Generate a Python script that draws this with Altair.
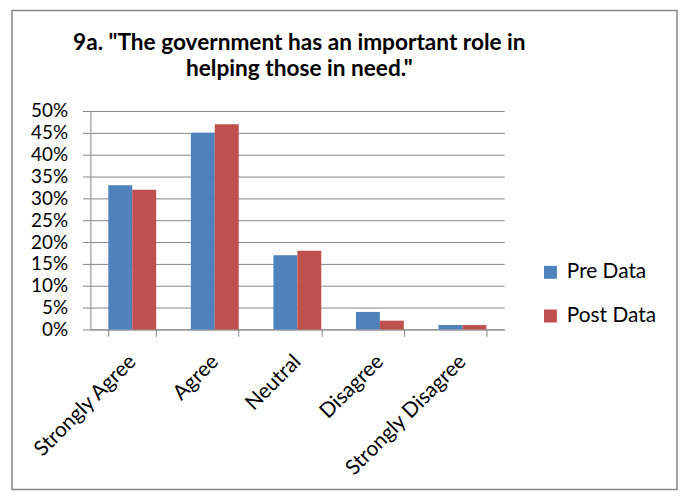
import altair as alt
import pandas as pd

categories = ["Strongly Agree", "Agree", "Neutral", "Disagree", "Strongly Disagree"]
series = ["Pre Data", "Post Data"]
pre_values = [33, 45, 17, 4, 1]
post_values = [32, 47, 18, 2, 1]
y_ticks = [0, 5, 10, 15, 20, 25, 30, 35, 40, 45, 50]
colors = ["#4F81BD", "#C0504D"]
title_lines = ['9a. "The government has an important role in', 'helping those in need."']

rows = []
for c, a, b in zip(categories, pre_values, post_values):
    rows.append({"category": c, "series": series[0], "value": a})
    rows.append({"category": c, "series": series[1], "value": b})
df = pd.DataFrame(rows)

W, H = 417, 220
PL, PT = 83, 102
CW, CH = 675, 484
PR = CW - PL - W
PB = CH - PT - H

FONT = "Lato"
GRAY = "#868686"

bars = alt.Chart(df).mark_bar().encode(
    x=alt.X("category:N", sort=categories, title=None,
            scale=alt.Scale(paddingInner=0.42, paddingOuter=0.217),
            axis=alt.Axis(labelAngle=-45, labelAlign="right", labelBaseline="middle",
                          labelFontSize=21, labelFont=FONT, labelColor="black",
                          tickBand="extent", tickSize=7, tickColor=GRAY, grid=False,
                          domainColor=GRAY, labelPadding=22, labelOverlap=False)),
    xOffset=alt.XOffset("series:N", sort=series),
    y=alt.Y("value:Q", title=None,
            scale=alt.Scale(domain=[0, 50]),
            axis=alt.Axis(values=y_ticks, labelExpr="datum.value + '%'",
                          labelFontSize=19, labelFont=FONT, labelColor="black",
                          tickSize=8, tickColor=GRAY, domainColor=GRAY,
                          grid=True, gridColor=GRAY, labelPadding=15,
                          labelOverlap=False)),
    color=alt.Color("series:N", sort=series,
                    scale=alt.Scale(domain=series, range=colors),
                    legend=alt.Legend(title=None, orient="none", legendX=453, legendY=152,
                                      labelFontSize=21, labelFont=FONT, labelColor="black",
                                      symbolType="square", symbolSize=169, labelOffset=6,
                                      symbolStrokeWidth=0, rowPadding=22, padding=0)),
)

frame = alt.Chart(pd.DataFrame({"k": [0]})).mark_rect(
    fill=None, stroke=GRAY, strokeWidth=1.5
).encode(
    x=alt.value(-79), x2=alt.value(W + PR - 1),
    y=alt.value(-PT + 0.75), y2=alt.value(H + PB - 0.75),
)

title = alt.Chart(pd.DataFrame({"t": [0]})).mark_text(
    text=title_lines, font=FONT, fontWeight="bold", fontSize=22.8, color="black",
    align="center", baseline="alphabetic", lineHeight=26,
).encode(x=alt.value(210.5), y=alt.value(-61))

chart = alt.layer(frame, title, bars).properties(
    width=W, height=H,
    autosize=alt.AutoSizeParams(type="none"),
    padding={"left": PL, "top": PT, "right": PR, "bottom": PB},
).configure_view(stroke=None)

chart.save("out.html", embed_options={"renderer": "svg", "actions": False})
